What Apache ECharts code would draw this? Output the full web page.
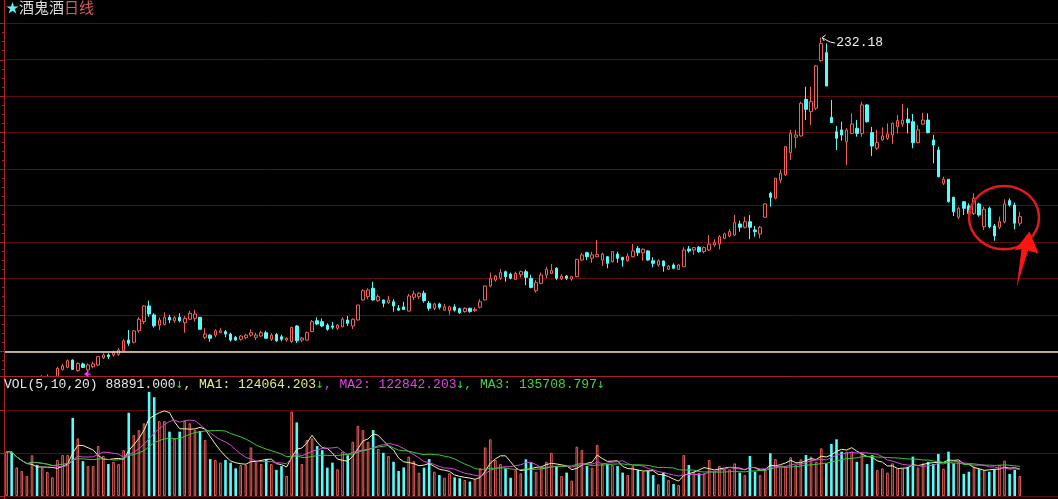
<!DOCTYPE html>
<html><head><meta charset="utf-8">
<script src="https://cdn.jsdelivr.net/npm/echarts@6/dist/echarts.min.js"></script>
<style>html,body{margin:0;padding:0;background:#000;overflow:hidden}#c{width:1058px;height:499px;}</style>
</head><body><div id="c"></div>
<script>
// ---------------- data ----------------
const stockName = '酒鬼酒';
const periodName = '日线';
const opens = [
42.0,43.5,42.3,43.0,43.5,43.8,45.0,44.3,45.3,45.8,
45.5,50.1,51.2,55.2,49.4,53.1,49.8,51.6,52.5,56.5,
58.0,58.0,58.4,60.4,66.2,65.0,71.3,76.3,84.9,80.0,
74.4,74.8,78.7,76.8,78.7,75.7,77.6,78.1,78.7,67.7,
68.9,68.9,70.2,70.8,69.5,67.7,66.6,67.5,68.9,67.7,
68.4,70.2,66.6,69.3,68.0,66.2,65.4,73.9,66.2,66.2,
70.8,76.8,76.3,74.4,73.9,72.7,73.5,77.2,73.9,77.2,
88.2,90.0,94.6,87.8,88.2,86.7,87.2,83.6,84.4,82.1,
89.7,90.0,91.9,86.4,83.6,86.0,82.6,82.3,84.4,83.4,
81.8,83.6,82.3,84.2,88.2,95.9,99.1,100.1,103.7,102.4,
99.5,102.0,103.7,100.1,93.3,97.3,101.9,102.8,105.6,99.9,
101.3,99.7,101.0,110.1,114.1,111.1,111.9,110.1,111.9,109.2,
113.4,111.6,109.7,111.9,116.5,114.1,115.1,109.7,107.4,109.6,
105.0,107.4,105.0,106.4,116.2,115.6,117.1,114.7,115.6,118.4,
118.9,122.0,123.3,123.8,129.9,128.1,131.1,126.6,124.4,133.6,
146.7,144.0,154.0,156.8,169.0,177.5,178.2,198.3,191.5,193.4,
219.5,223.9,188.4,180.5,181.5,175.0,179.6,182.4,179.6,195.2,
180.0,171.4,176.0,176.9,178.7,183.2,184.7,187.3,186.0,174.5,
184.7,186.9,176.0,170.5,152.2,154.4,144.5,133.6,142.1,139.8,
135.7,140.9,128.4,138.5,128.8,128.1,131.1,142.7,140.3,130.3];
const closes = [
43.0,42.2,43.1,43.6,43.9,44.9,44.2,45.5,46.0,45.9,
50.7,52.0,54.9,50.1,53.3,51.2,52.5,53.1,57.1,58.0,
57.1,59.3,60.7,65.8,64.4,71.2,77.6,84.9,80.5,74.0,
77.2,78.7,77.2,78.5,76.8,78.1,80.9,80.5,72.1,69.5,
67.2,71.3,71.3,69.5,66.2,66.2,68.4,68.9,70.2,68.9,
70.2,67.2,68.9,65.8,66.6,67.2,73.2,65.8,67.3,70.2,
76.3,75.0,73.9,72.1,73.2,74.4,77.6,75.4,77.6,85.4,
93.3,93.7,88.2,90.0,86.4,88.2,84.9,82.6,83.0,90.4,
91.5,91.9,87.8,83.6,86.0,84.2,84.4,84.4,82.6,81.2,
83.6,81.8,83.0,87.2,95.9,100.1,101.3,103.2,100.9,100.1,
102.8,103.7,100.6,95.1,97.7,101.9,105.0,104.3,100.1,101.3,
100.1,101.0,110.5,112.9,111.9,112.9,113.2,113.4,108.3,114.7,
111.1,110.1,112.3,115.1,114.1,116.0,110.1,108.3,109.7,106.8,
106.8,105.6,107.4,115.6,115.1,116.9,114.7,116.9,118.9,119.6,
122.9,124.4,125.7,130.6,128.1,131.1,128.1,125.7,128.1,140.9,
144.5,155.0,157.7,172.3,179.6,178.7,196.1,192.8,197.0,216.6,
229.0,205.6,185.5,176.9,178.7,181.5,184.7,179.6,195.2,186.0,
172.7,174.5,178.2,179.3,185.1,186.6,186.9,185.5,174.5,181.5,
186.9,180.0,173.2,155.8,154.4,142.1,136.6,138.5,138.5,135.7,
144.0,134.8,138.0,128.4,123.3,131.1,140.9,140.3,130.3,133.9];
const lows = [
41.5,41.8,41.9,42.6,43.1,43.5,43.8,43.9,45.0,45.2,
45.0,49.4,50.7,49.8,48.8,51.0,48.3,50.7,52.0,55.8,
55.8,57.1,57.6,60.2,63.0,64.4,70.2,75.0,79.0,73.0,
71.7,74.2,75.4,75.7,75.9,70.2,77.2,76.3,72.0,66.6,
65.3,67.7,70.0,67.7,65.3,65.7,65.8,66.6,68.0,66.2,
68.0,67.2,65.7,65.1,65.5,65.3,64.6,64.6,65.1,65.7,
70.6,74.4,73.2,71.3,72.1,71.7,73.2,73.9,72.3,77.0,
87.8,88.6,87.8,87.2,84.2,86.0,81.8,82.3,82.6,82.0,
88.2,88.6,86.7,82.3,82.6,83.0,82.3,80.0,81.8,80.5,
81.2,81.2,81.6,83.6,88.0,95.1,98.2,99.1,98.2,99.5,
99.1,100.6,96.3,94.6,92.2,96.9,100.1,102.4,99.1,99.1,
99.1,98.8,100.6,109.7,110.1,108.6,111.6,106.8,105.6,108.6,
108.6,106.4,109.2,111.6,112.3,109.7,109.7,106.1,106.4,103.7,
104.6,105.0,104.8,106.3,114.1,112.9,114.1,113.8,115.1,117.4,
116.0,121.5,122.6,123.3,125.7,127.5,121.5,122.9,122.0,133.4,
139.4,143.4,152.2,156.2,165.0,171.4,177.8,186.9,184.2,192.4,
218.9,205.5,185.4,170.5,175.6,162.3,179.5,177.8,177.8,185.5,
167.2,170.5,175.6,176.0,173.8,179.6,183.2,179.6,171.4,174.2,
184.2,179.6,163.2,155.5,151.3,141.6,134.3,132.5,134.8,134.8,
134.8,133.9,126.6,127.5,120.7,127.0,130.3,139.4,127.0,128.8];
const highs = [
43.8,44.0,43.6,44.0,44.3,45.3,45.4,47.0,47.4,46.0,
51.6,53.1,55.6,55.6,54.0,53.8,53.4,54.3,57.4,58.9,
58.9,60.4,61.7,66.6,71.7,71.7,78.7,85.4,87.8,80.9,
78.7,81.4,80.0,79.4,80.9,79.4,82.3,82.7,78.9,72.7,
69.5,72.1,72.7,71.7,70.2,68.4,68.9,69.5,72.1,70.2,
71.3,71.3,70.0,70.0,69.1,67.7,73.5,74.4,67.9,70.8,
77.2,78.7,78.1,75.4,76.1,75.0,78.7,79.4,78.1,85.5,
94.0,94.6,98.2,91.3,88.3,90.5,88.6,85.4,87.2,91.5,
93.3,92.4,93.3,87.6,86.7,86.7,86.0,84.9,85.8,84.0,
84.2,84.0,84.2,88.6,96.0,103.2,101.9,105.2,104.3,103.2,
103.7,104.3,104.8,102.0,99.1,103.2,106.4,107.9,106.1,102.4,
101.9,101.3,110.6,114.1,114.7,114.7,121.1,114.1,112.3,114.8,
114.7,111.9,113.8,118.9,117.8,116.5,115.6,111.6,110.5,109.7,
107.4,108.3,107.9,117.1,117.8,117.4,117.8,117.4,123.8,121.5,
123.8,125.1,127.0,134.8,131.7,133.9,134.8,128.8,128.8,141.2,
147.6,155.1,159.5,172.7,181.5,181.5,197.0,205.2,205.2,217.1,
232.18,229.0,197.9,183.6,186.0,182.4,190.6,186.9,197.0,195.7,
183.2,181.5,182.9,185.1,185.5,189.7,195.7,193.4,190.2,184.2,
190.9,190.6,178.7,172.3,155.8,154.5,144.9,139.4,142.5,141.2,
146.7,141.6,139.4,139.4,129.9,133.9,143.4,144.0,141.6,136.6];
// volume in thousands
const volumes = [
197,196,127,111,89,181,138,126,107,83,
160,182,182,347,256,155,133,133,222,178,
142,152,142,204,370,271,293,323,463,439,
333,333,286,256,286,333,323,293,289,249,
164,160,148,160,148,123,138,138,216,155,
142,164,142,116,133,89,375,327,142,249,
256,222,204,126,148,119,197,181,241,312,
293,241,293,209,192,178,152,111,127,175,
155,104,126,164,108,93,81,101,83,79,
71,64,74,123,216,252,160,142,123,81,
116,101,163,148,108,127,152,192,133,89,
104,68,219,204,133,126,227,142,142,138,
133,104,93,133,116,108,111,93,52,105,
71,53,49,182,138,108,101,101,160,108,
133,119,119,145,104,93,178,108,93,116,
190,164,133,133,172,138,163,182,175,152,
212,145,231,252,197,197,197,152,190,142,
182,116,123,104,145,123,123,130,175,127,
145,152,142,187,121,197,145,152,98,108,
130,119,116,108,119,138,157,98,116,88.891];
const maPeriods = [5, 10, 20];
const volHeader = { vol: '88891.000', ma1: '124064.203', ma2: '122842.203', ma3: '135708.797' };
const priceTicks = { min: 40, max: 240, step: 20 };
const volTicks = { min: 0, max: 530.2, step: 190 };
const referenceLevel = 60;           // cream horizontal line
const signalMarks = [{ idx: 15, price: 47.6 }];   // magenta marker
const circleMark = { idx: 196, price: 133.4 };    // red hand-drawn circle
const days = opens.map((_, i) => 'D' + (i + 1));
const totalSlots = 207;

// ---------------- styles ----------------
const UP = '#f0605a', DOWN = '#54fcfc', GRID = '#5c0a0a', AXIS = '#a82222';
const L = 4, W = 1055.7;

function movingAvg(arr, n) {
  return arr.map((_, i) => {
    const s = Math.max(0, i - n + 1); let sum = 0;
    for (let k = s; k <= i; k++) sum += arr[k];
    return +(sum / (i - s + 1)).toFixed(3);
  });
}
const candleData = opens.map((o, i) => [o, closes[i], lows[i], highs[i]]);
const volData = volumes.map((v, i) => ({
  value: v,
  itemStyle: closes[i] >= opens[i] ? { color: '#000', borderColor: UP, borderWidth: 1 } : { color: DOWN, borderWidth: 0 }
}));
const maColors = ['#f2f2b4', '#d64ad6', '#3cc83c'];

const chart = echarts.init(document.getElementById('c'));
const hiddenX = { axisLine: { show: false }, axisTick: { show: false }, axisLabel: { show: false }, splitLine: { show: false } };
chart.setOption({
  animation: false,
  backgroundColor: '#000',
  grid: [
    { left: L, top: 23.3, width: W, height: 364.5 },
    { left: L, top: 376.7, width: W, height: 119.3 }
  ],
  xAxis: [
    Object.assign({ type: 'category', gridIndex: 0, data: days, max: totalSlots - 1, boundaryGap: true }, hiddenX),
    Object.assign({ type: 'category', gridIndex: 1, data: days, max: totalSlots - 1, boundaryGap: true }, hiddenX)
  ],
  yAxis: [
    { type: 'value', gridIndex: 0, min: priceTicks.min, max: priceTicks.max, interval: priceTicks.step,
      axisLine: { show: true, lineStyle: { color: AXIS } },
      axisTick: { show: true, inside: false, length: 4, lineStyle: { color: AXIS } },
      minorTick: { show: true, splitNumber: 4, length: 2, lineStyle: { color: AXIS } },
      axisLabel: { show: false }, splitLine: { show: true, lineStyle: { color: GRID, width: 1 } } },
    { type: 'value', gridIndex: 1, min: volTicks.min, max: volTicks.max, interval: volTicks.step,
      axisLine: { show: true, lineStyle: { color: AXIS } },
      axisTick: { show: true, inside: false, length: 4, lineStyle: { color: AXIS } },
      axisLabel: { show: false }, splitLine: { show: true, lineStyle: { color: GRID, width: 1 } } }
  ],
  series: [
    { type: 'candlestick', xAxisIndex: 0, yAxisIndex: 0, data: candleData, barWidth: 3, clip: true,
      itemStyle: { color: '#000', color0: DOWN, borderColor: UP, borderColor0: DOWN, borderWidth: 1 },
      markLine: { silent: true, symbol: ['none', 'none'], label: { show: false },
        lineStyle: { color: '#f3e4c4', width: 1.5, type: 'solid' }, data: [{ yAxis: referenceLevel }] } },
    { type: 'bar', xAxisIndex: 1, yAxisIndex: 1, data: volData, barWidth: 2.6 },
  ].concat(maPeriods.map((p, k) => ({
    type: 'line', xAxisIndex: 1, yAxisIndex: 1, data: movingAvg(volumes, p), symbol: 'none',
    lineStyle: { color: maColors[k], width: 1 }, z: 3
  })))
});

// ---------------- annotations ----------------
const peakIdx = highs.indexOf(Math.max(...highs));
const [px, py] = chart.convertToPixel({ xAxisIndex: 0, yAxisIndex: 0 }, [peakIdx, highs[peakIdx]]);
const sm = signalMarks.map(m => chart.convertToPixel({ xAxisIndex: 0, yAxisIndex: 0 }, [m.idx, m.price]));
const [cx, cy] = chart.convertToPixel({ xAxisIndex: 0, yAxisIndex: 0 }, [circleMark.idx, circleMark.price]);
const mono = '13px "Liberation Mono", "DejaVu Sans Mono", monospace';
const arrowFont = '13px "DejaVu Sans Mono", "Liberation Mono", monospace';
const g = [
  { type: 'rect', z: 50, silent: true, shape: { x: 0, y: 377, width: 1058, height: 12 }, style: { fill: '#000' } },
  { type: 'line', z: 51, silent: true, shape: { x1: 4, y1: 376.5, x2: 1058, y2: 376.5 }, style: { stroke: AXIS, lineWidth: 1 } },
  { type: 'line', z: 51, silent: true, shape: { x1: 4.5, y1: 0, x2: 4.5, y2: 499 }, style: { stroke: AXIS, lineWidth: 1 } },
  { type: 'text', z: 52, silent: true, x: 6, y: 7.5, style: {
      text: '{s|★}{n|' + stockName + '}{p|' + periodName + '}', verticalAlign: 'middle',
      rich: { s: { fill: '#5ff2f2', font: '13px "Noto Sans CJK SC"' },
              n: { fill: '#dcdcdc', font: '15px "Noto Sans CJK SC"' },
              p: { fill: '#d85a5a', font: '15px "Noto Sans CJK SC"' } } } },
  { type: 'text', z: 52, silent: true, x: 4, y: 385, style: {
      text: '{w|VOL(' + maPeriods.join(',') + ') ' + volHeader.vol + '}{g|↓}{y|, MA1: ' + volHeader.ma1 + '}{g|↓}{m|, MA2: ' + volHeader.ma2 + '}{g|↓}{n|, MA3: ' + volHeader.ma3 + '}{g|↓}',
      verticalAlign: 'middle', font: mono,
      rich: { w: { fill: '#e8e8e8', font: mono }, g: { fill: '#2fd32f', font: arrowFont }, y: { fill: '#e8e87c', font: mono },
              m: { fill: '#e046e0', font: mono }, n: { fill: '#45d045', font: mono } } } },
  { type: 'polyline', z: 52, silent: true, shape: { points: [[px + 1, py], [px + 5, py + 2.5], [px + 9, py + 4.5], [px + 14, py + 5.5]] }, style: { stroke: '#f0f0f0', lineWidth: 1, fill: 'none' } },
  { type: 'polyline', z: 52, silent: true, shape: { points: [[px + 4.5, py - 2.5], [px + 1, py], [px + 3, py + 3.5]] }, style: { stroke: '#f0f0f0', lineWidth: 1, fill: 'none' } },
  { type: 'text', z: 52, silent: true, x: px + 15, y: py + 5.5, style: { text: highs[peakIdx].toFixed(2), fill: '#f0f0f0', font: mono, verticalAlign: 'middle' } },
  { type: 'ellipse', z: 52, silent: true, shape: { cx: cx - 0.5, cy: cy, rx: 35, ry: 31.7 }, style: { fill: 'none', stroke: '#e21a1a', lineWidth: 2.5 } },
  { type: 'polygon', z: 52, silent: true, shape: { points: [[cx + 25, cy + 14], [cx + 34, cy + 36], [cx + 23.5, cy + 33], [cx + 12, cy + 70], [cx + 17, cy + 31.5], [cx + 10, cy + 33]] }, style: { fill: '#ff1414' } }
];
sm.forEach(([x, y]) => {
  g.push({ type: 'polygon', z: 52, silent: true, shape: { points: [[x + 1, y], [x + 5.5, y - 3.3], [x + 5.5, y + 3.3]] }, style: { fill: '#ff2cff' } });
  g.push({ type: 'rect', z: 52, silent: true, shape: { x: x + 5.5, y: y - 0.5, width: 2, height: 1.5 }, style: { fill: '#ff2cff' } });
});
chart.setOption({ graphic: g });
</script></body></html>
